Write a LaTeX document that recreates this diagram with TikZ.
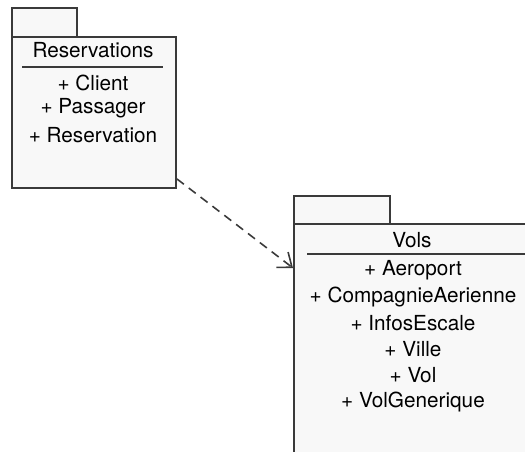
\documentclass[tikz,border=0pt]{standalone}
\usepackage{fontspec}
\setmainfont{TeX Gyre Heros}
\usetikzlibrary{arrows.meta}

\definecolor{pkgfill}{HTML}{F8F8F8}
\definecolor{pkgline}{HTML}{3A3A3A}

\begin{document}
\begin{tikzpicture}[x=0.02cm, y=-0.02cm,
  pkgtab/.style={draw=pkgline, fill=pkgfill, line width=1.1pt, anchor=north west, inner sep=0pt},
  pkgbody/.style={draw=pkgline, fill=pkgfill, line width=1.1pt, anchor=north west, inner sep=0pt},
  pkgtitle/.style={font=\fontsize{11.8}{14}\selectfont, inner sep=0pt},
  member/.style={font=\fontsize{11.8}{14}\selectfont, inner sep=0pt},
  depend/.style={pkgline, line width=0.9pt, dash pattern=on 5pt off 3.5pt, -{Straight Barb[length=7pt, width=11pt, line width=0.9pt]}}]
\clip (0,0) rectangle (525,451);
\fill[white] (0,0) rectangle (525,451);

% package Reservations
\node[pkgtab, minimum width=1.30cm, minimum height=0.58cm] (resvtab) at (11,7) {};
\node[pkgbody, minimum width=3.28cm, minimum height=3.02cm] (resv) at (11,36) {};
\node[pkgtitle] (resvname) at (93,50) {Reservations};
\draw[pkgline, line width=1.1pt] (22,67) -- (163,67);
\node[member] (client) at (93,83) {+ Client};
\node[member] (passager) at (93,108) {+ Passager};
\node[member] (reservation) at (93,135) {+ Reservation};

% package Vols
\node[pkgtab, minimum width=1.92cm, minimum height=0.56cm] (volstab) at (293,195) {};
\node[pkgbody, minimum width=5.2cm, minimum height=5.4cm] (vols) at (293,223) {};
\node[pkgtitle] (volsname) at (412,240) {Vols};
\draw[pkgline, line width=1.1pt] (307,254) -- (531,254);
\node[member] (aeroport) at (413,270) {+ Aeroport};
\node[member] (compagnie) at (413,297) {+ CompagnieAerienne};
\node[member] (infos) at (413,323) {+ InfosEscale};
\node[member] (ville) at (413,349) {+ Ville};
\node[member] (vol) at (413,375) {+ Vol};
\node[member] (volgen) at (413,402) {+ VolGenerique};

% dependency
\draw[depend] ([yshift=0.2cm]resv.south east) -- ([yshift=-0.9cm]vols.north west);
\end{tikzpicture}
\end{document}
